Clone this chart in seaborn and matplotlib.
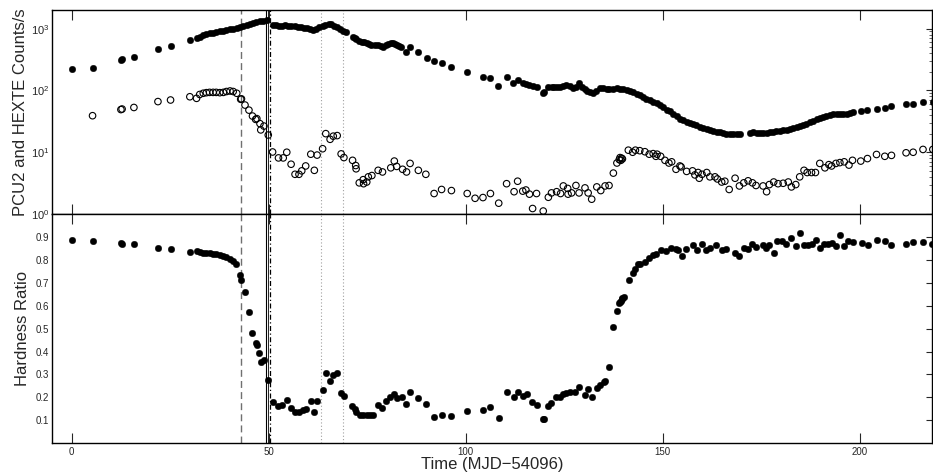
import matplotlib
matplotlib.use("Agg")
import matplotlib.pyplot as plt
import seaborn as sns
from matplotlib.ticker import LogLocator, NullFormatter, FixedLocator

# PCU2 count rate (counts/s) versus time (MJD-54096)
pcu2 = [
    (0.0, 222), (5.3, 233), (12.5, 315), (12.8, 322), (15.8, 351), (21.9, 464),
    (25.1, 530), (30.0, 646), (31.7, 714), (32.5, 745), (33.4, 790), (34.2, 815),
    (35.0, 840), (35.9, 860), (36.7, 880), (37.6, 900), (38.5, 925), (39.3, 950),
    (40.2, 975), (41.0, 1000), (41.9, 1040), (42.7, 1075), (43.5, 1100),
    (44.4, 1140), (45.2, 1180), (46.1, 1220), (46.9, 1260), (47.8, 1310),
    (48.6, 1350), (49.5, 1400),
    (51.0, 1150), (51.8, 1130), (52.6, 1120), (53.4, 1110), (54.2, 1140),
    (55.0, 1120), (55.8, 1100), (56.6, 1090), (57.4, 1070), (58.2, 1050),
    (59.0, 1030), (59.8, 1010), (60.6, 980), (61.3, 940), (62.1, 1000),
    (62.9, 1080), (63.7, 1120), (64.4, 1150), (65.2, 1170), (65.9, 1200),
    (66.7, 1120), (67.4, 1060), (68.2, 990), (68.9, 920), (69.6, 880),
    (71.3, 725), (71.8, 700), (72.3, 673), (73.0, 640), (73.6, 617), (74.2, 600),
    (74.9, 580), (75.5, 560), (76.1, 545), (77.0, 550), (77.8, 545), (78.5, 525),
    (79.1, 510), (79.8, 540), (80.4, 565), (81.0, 575), (81.5, 580), (82.0, 560),
    (82.5, 545), (83.2, 530), (83.7, 510), (84.8, 424), (86.0, 510), (88.0, 424),
    (90.1, 331), (92.0, 300), (93.9, 281), (96.4, 237), (100.4, 201),
    (104.5, 167), (106.2, 157), (108.3, 119), (110.4, 167), (112.1, 133),
    (113.4, 147), (114.6, 130), (115.4, 127), (116.2, 124), (117.0, 120),
    (118.2, 112), (119.7, 92), (120.0, 95), (121.0, 112), (121.8, 112),
    (122.5, 114), (123.1, 115), (123.9, 112), (124.8, 120), (125.6, 124),
    (126.4, 118), (127.3, 108), (128.0, 115), (128.8, 130), (129.5, 115),
    (130.3, 104), (130.7, 99), (131.5, 95), (132.4, 90), (133.2, 97),
    (134.1, 108), (134.9, 110), (135.8, 104), (136.5, 107), (137.5, 107),
    (138.3, 108), (139.2, 106), (140.0, 104), (140.9, 101), (141.7, 98),
    (142.5, 95), (143.4, 89), (144.2, 85), (145.0, 79), (145.9, 74), (146.7, 70),
    (147.6, 66), (148.5, 62), (149.3, 58), (150.2, 53), (151.0, 49), (151.8, 46),
    (152.7, 42), (153.6, 38), (154.4, 35), (155.2, 33), (156.1, 31),
    (157.0, 29.5), (157.8, 28.5), (158.6, 27.5), (159.5, 26), (160.3, 25),
    (161.2, 24), (162.0, 23.2), (162.8, 22.2), (163.7, 21.5), (164.5, 21),
    (165.4, 20.5), (166.2, 20), (167.1, 19.6), (167.9, 19.4), (168.8, 19.6),
    (169.6, 19.5), (172.2, 20.8), (173.0, 20.9), (173.9, 20.8), (174.7, 20.5),
    (175.5, 20.3), (176.4, 20.7), (177.2, 21.2), (178.0, 21.6), (178.9, 22),
    (179.8, 22.3), (180.6, 22.8), (181.5, 23.3), (182.3, 24), (183.2, 24.8),
    (184.0, 25.7), (184.8, 26.6), (185.7, 27.8), (186.5, 29), (187.4, 30.5),
    (188.2, 32), (189.1, 34), (189.9, 35.5), (190.8, 37), (191.6, 38.5),
    (192.5, 40), (193.3, 41), (194.2, 41.5), (195.0, 42), (195.9, 42),
    (196.7, 42), (197.5, 43), (198.4, 45), (200.3, 46.5), (202.0, 48),
    (204.3, 51), (206.4, 52.5), (208.1, 56), (211.8, 59.5), (213.6, 60),
    (216.1, 64), (218.6, 65),
]

# HEXTE count rate (counts/s)
hexte = [
    (5.3, 39), (12.5, 49), (12.8, 50), (15.8, 53), (21.9, 66), (25.1, 70),
    (30.0, 79), (31.7, 74.5), (32.5, 86), (33.4, 90), (34.2, 92), (35.0, 93),
    (35.9, 93), (36.7, 93), (37.6, 92), (38.5, 93), (39.3, 96), (40.2, 98),
    (41.0, 96), (41.9, 90), (42.9, 72), (43.1, 73), (44.0, 58), (45.0, 48),
    (45.9, 38.5), (46.7, 34), (47.0, 35), (47.8, 29), (48.0, 23), (48.8, 26.5),
    (49.9, 19), (51.0, 10.1), (52.5, 8.1), (53.7, 8.1), (54.6, 10), (55.7, 6.4),
    (56.7, 4.4), (57.7, 4.4), (58.4, 5.0), (59.4, 6.0), (60.7, 9.3), (61.6, 5.1),
    (62.3, 9.0), (63.7, 11.4), (64.5, 20), (65.6, 16.2), (66.4, 18.2),
    (67.4, 18.6), (68.4, 9.4), (69.1, 8.2), (71.3, 7.4), (72.1, 6.1),
    (72.2, 5.4), (73.0, 3.2), (74.0, 3.6), (74.1, 3.1), (74.9, 3.3), (75.3, 4.0),
    (76.2, 4.2), (77.8, 5.1), (78.9, 4.8), (81.0, 5.6), (81.9, 7.2), (82.5, 5.9),
    (84.0, 5.3), (85.0, 4.8), (85.9, 6.6), (88.0, 5.1), (89.9, 4.4), (92.0, 2.15),
    (93.9, 2.5), (96.4, 2.4), (100.4, 2.15), (102.4, 1.8), (104.4, 1.85),
    (106.3, 2.15), (108.4, 1.5), (110.4, 3.1), (112.3, 2.3), (113.2, 3.4),
    (114.5, 2.35), (115.3, 2.45), (116.2, 2.1), (117.0, 1.23), (118.0, 2.15),
    (119.7, 1.12), (121.0, 1.87), (121.8, 2.2), (123.1, 2.3), (124.1, 2.15),
    (124.8, 2.85), (125.9, 2.6), (126.0, 2.1), (126.9, 2.2), (128.0, 2.9),
    (128.8, 2.2), (130.3, 2.65), (131.1, 2.2), (132.0, 1.74), (133.3, 2.75),
    (134.3, 2.4), (135.4, 2.85), (136.4, 2.9), (137.5, 4.6), (138.4, 6.7),
    (139.0, 7.6), (139.2, 8.2), (139.4, 7.4), (139.6, 8.0), (139.8, 7.8),
    (141.3, 10.8), (142.4, 10.0), (143.1, 10.8), (144.2, 10.6), (145.5, 10.2),
    (146.6, 9.3), (147.6, 9.5), (148.3, 8.6), (148.6, 9.3), (149.5, 8.6),
    (150.6, 7.4), (151.6, 6.7), (152.3, 7.0), (153.4, 5.3), (154.4, 6.0),
    (154.7, 5.8), (156.1, 4.9), (157.6, 5.0), (158.2, 4.3), (159.0, 4.7),
    (159.3, 3.8), (160.0, 4.4), (161.2, 4.7), (162.0, 4.0), (163.3, 4.0),
    (163.9, 3.7), (165.0, 3.3), (165.8, 3.4), (166.9, 2.5), (168.4, 3.8),
    (169.5, 2.85), (170.6, 3.2), (171.7, 3.45), (172.8, 3.2), (173.7, 2.9),
    (175.5, 2.85), (176.4, 2.3), (177.1, 3.0), (178.2, 3.3), (179.3, 3.1),
    (180.6, 3.15), (181.9, 3.3), (182.7, 2.75), (183.8, 3.0), (184.8, 4.0),
    (185.9, 5.1), (186.7, 4.7), (187.8, 4.7), (188.8, 4.7), (189.9, 6.6),
    (191.2, 5.6), (192.2, 6.3), (192.9, 6.0), (194.0, 6.6), (195.0, 6.8),
    (196.1, 7.0), (197.3, 6.2), (198.2, 7.4), (200.3, 7.2), (202.0, 7.9),
    (204.3, 9.2), (206.4, 8.6), (208.1, 8.9), (211.8, 9.8), (213.6, 10.0),
    (216.1, 11.1), (218.6, 11.1),
]

# Hardness ratio
hardness = [
    (0.0, 0.885), (5.3, 0.883), (12.5, 0.872), (12.8, 0.870), (15.8, 0.868),
    (21.9, 0.850), (25.1, 0.848), (30.0, 0.833), (31.7, 0.838), (32.5, 0.834),
    (33.4, 0.832), (34.2, 0.830), (35.0, 0.828), (35.9, 0.826), (36.7, 0.824),
    (37.6, 0.822), (38.5, 0.819), (39.3, 0.813), (40.2, 0.806), (41.0, 0.797),
    (41.7, 0.783), (42.7, 0.733), (43.0, 0.714), (44.0, 0.658), (44.9, 0.574),
    (45.9, 0.482), (46.8, 0.439), (47.0, 0.429), (47.6, 0.393), (48.0, 0.356),
    (48.9, 0.364), (49.9, 0.277), (51.0, 0.181), (52.4, 0.164), (53.4, 0.165),
    (54.6, 0.190), (55.7, 0.153), (56.7, 0.137), (57.7, 0.137), (58.6, 0.144),
    (59.5, 0.151), (60.7, 0.185), (61.6, 0.138), (62.3, 0.182), (63.7, 0.230),
    (64.5, 0.306), (65.6, 0.272), (66.4, 0.299), (67.4, 0.306), (68.4, 0.220),
    (69.2, 0.205), (71.2, 0.164), (71.9, 0.147), (72.3, 0.135), (73.1, 0.122),
    (74.0, 0.122), (74.9, 0.122), (75.7, 0.121), (76.4, 0.122), (77.7, 0.167),
    (78.7, 0.153), (79.9, 0.183), (80.8, 0.200), (81.8, 0.214), (82.6, 0.197),
    (83.9, 0.200), (84.8, 0.171), (86.0, 0.222), (88.0, 0.197), (89.9, 0.171),
    (92.0, 0.116), (93.9, 0.123), (96.4, 0.117), (100.4, 0.139), (104.3, 0.143),
    (106.3, 0.157), (108.4, 0.109), (110.4, 0.225), (112.3, 0.200),
    (113.4, 0.222), (114.5, 0.207), (115.5, 0.214), (116.9, 0.178),
    (118.0, 0.168), (119.6, 0.106), (119.9, 0.104), (121.0, 0.164),
    (121.7, 0.174), (122.9, 0.200), (124.0, 0.202), (124.8, 0.216),
    (125.6, 0.220), (126.5, 0.222), (127.7, 0.224), (128.7, 0.244),
    (130.3, 0.210), (131.1, 0.236), (132.0, 0.202), (133.3, 0.240),
    (134.2, 0.255), (135.0, 0.265), (135.5, 0.272), (136.4, 0.333),
    (137.5, 0.507), (138.4, 0.575), (139.0, 0.610), (139.2, 0.614),
    (139.4, 0.622), (139.6, 0.628), (139.8, 0.632), (140.3, 0.639),
    (141.5, 0.712), (142.4, 0.743), (143.0, 0.759), (143.8, 0.781),
    (144.2, 0.783), (145.5, 0.791), (146.6, 0.809), (147.6, 0.820),
    (148.3, 0.826), (149.6, 0.845), (150.8, 0.837), (152.1, 0.852),
    (153.4, 0.848), (154.0, 0.845), (154.8, 0.819), (155.9, 0.849),
    (157.6, 0.867), (158.8, 0.845), (159.9, 0.870), (161.0, 0.842),
    (162.0, 0.852), (163.5, 0.863), (165.0, 0.845), (166.2, 0.848),
    (168.4, 0.830), (169.4, 0.819), (170.6, 0.852), (171.7, 0.848),
    (172.7, 0.870), (173.6, 0.855), (175.5, 0.863), (176.2, 0.852),
    (177.1, 0.867), (178.2, 0.830), (179.1, 0.881), (180.2, 0.881),
    (181.3, 0.871), (182.6, 0.896), (183.8, 0.862), (184.8, 0.917),
    (185.9, 0.867), (187.0, 0.867), (187.8, 0.871), (188.9, 0.888),
    (189.9, 0.852), (191.0, 0.870), (192.0, 0.871), (192.9, 0.874),
    (194.0, 0.859), (195.0, 0.910), (196.1, 0.862), (197.1, 0.881),
    (198.4, 0.878), (200.5, 0.874), (202.2, 0.867), (204.3, 0.888),
    (206.4, 0.884), (208.1, 0.867), (211.8, 0.870), (213.6, 0.878),
    (216.1, 0.878), (218.5, 0.870),
]

t_pcu, pcu_rate = zip(*pcu2)
t_hexte, hexte_rate = zip(*hexte)
t_hr, hr = zip(*hardness)

# Epochs marked across both panels: (time, colour, linestyle, linewidth)
markers = [
    (43.0, "#707070", (0, (5, 3)), 1.0),
    (49.45, "black", "-", 0.8),
    (49.9, "black", "-", 0.6),
    (50.4, "black", (0, (4, 2, 1, 2)), 0.9),
    (63.2, "#a0a0a0", (0, (1, 2)), 0.8),
    (68.8, "#a0a0a0", (0, (1, 2)), 0.8),
]

x_ticks = [0, 50, 100, 150, 200]
hr_ticks = [0.1, 0.2, 0.3, 0.4, 0.5, 0.6, 0.7, 0.8, 0.9]

sns.set_theme(style="ticks")
plt.rcParams["font.family"] = ["Liberation Sans", "DejaVu Sans"]
plt.rcParams["mathtext.fontset"] = "custom"
plt.rcParams["mathtext.rm"] = "Liberation Sans"
plt.rcParams["axes.linewidth"] = 1.0
plt.rcParams["axes.edgecolor"] = "black"

fig = plt.figure(figsize=(9.33, 4.76), dpi=100)
gs = fig.add_gridspec(2, 1, left=0.0557, right=0.999, top=0.979, bottom=0.069,
                      hspace=0.0, height_ratios=[204, 229])
ax_top = fig.add_subplot(gs[0])
ax_bot = fig.add_subplot(gs[1], sharex=ax_top)

# Count rates
sns.scatterplot(x=t_pcu, y=pcu_rate, ax=ax_top, s=22, color="black",
                edgecolor="black", linewidth=0.3, zorder=3)
sns.scatterplot(x=t_hexte, y=hexte_rate, ax=ax_top, s=22, marker="o",
                facecolor="none", edgecolor="black", linewidth=0.8, zorder=3)
ax_top.set_yscale("log")
ax_top.set_ylim(1, 2000)
ax_top.set_ylabel("PCU2 and HEXTE Counts/s", fontsize=12, labelpad=2)

# Hardness ratio
sns.scatterplot(x=t_hr, y=hr, ax=ax_bot, s=22, color="black",
                edgecolor="black", linewidth=0.3, zorder=3)
ax_bot.set_ylim(0.0, 1.0)
ax_bot.set_ylabel("Hardness Ratio", fontsize=12, labelpad=4)
ax_bot.set_xlabel("Time (MJD\u221254096)", fontsize=12, labelpad=0)

for ax in (ax_top, ax_bot):
    for t, c, ls, lw in markers:
        ax.axvline(t, color=c, linestyle=ls, linewidth=lw, zorder=2)
    ax.set_xlim(-5, 218.4)
    ax.xaxis.set_major_locator(FixedLocator(x_ticks))
    ax.tick_params(axis="x", which="major", direction="in", top=True,
                   bottom=True, length=7, width=0.8, labelsize=7, pad=3)
    ax.tick_params(axis="y", which="both", direction="in", left=False,
                   right=True, labelsize=7, pad=2)
    for side in ("top", "right", "bottom", "left"):
        ax.spines[side].set_visible(True)

ax_top.tick_params(axis="x", labelbottom=False)
ax_top.yaxis.set_major_locator(LogLocator(base=10, numticks=10))
ax_top.yaxis.set_minor_locator(LogLocator(base=10, subs=range(2, 10), numticks=10))
ax_top.yaxis.set_minor_formatter(NullFormatter())
ax_top.tick_params(axis="y", which="major", length=4, width=0.8, labelsize=8)
ax_top.tick_params(axis="y", which="minor", length=2, width=0.5)

ax_bot.yaxis.set_major_locator(FixedLocator(hr_ticks))
ax_bot.tick_params(axis="y", which="major", length=4, width=0.8)

fig.savefig("out.png", dpi=100)
